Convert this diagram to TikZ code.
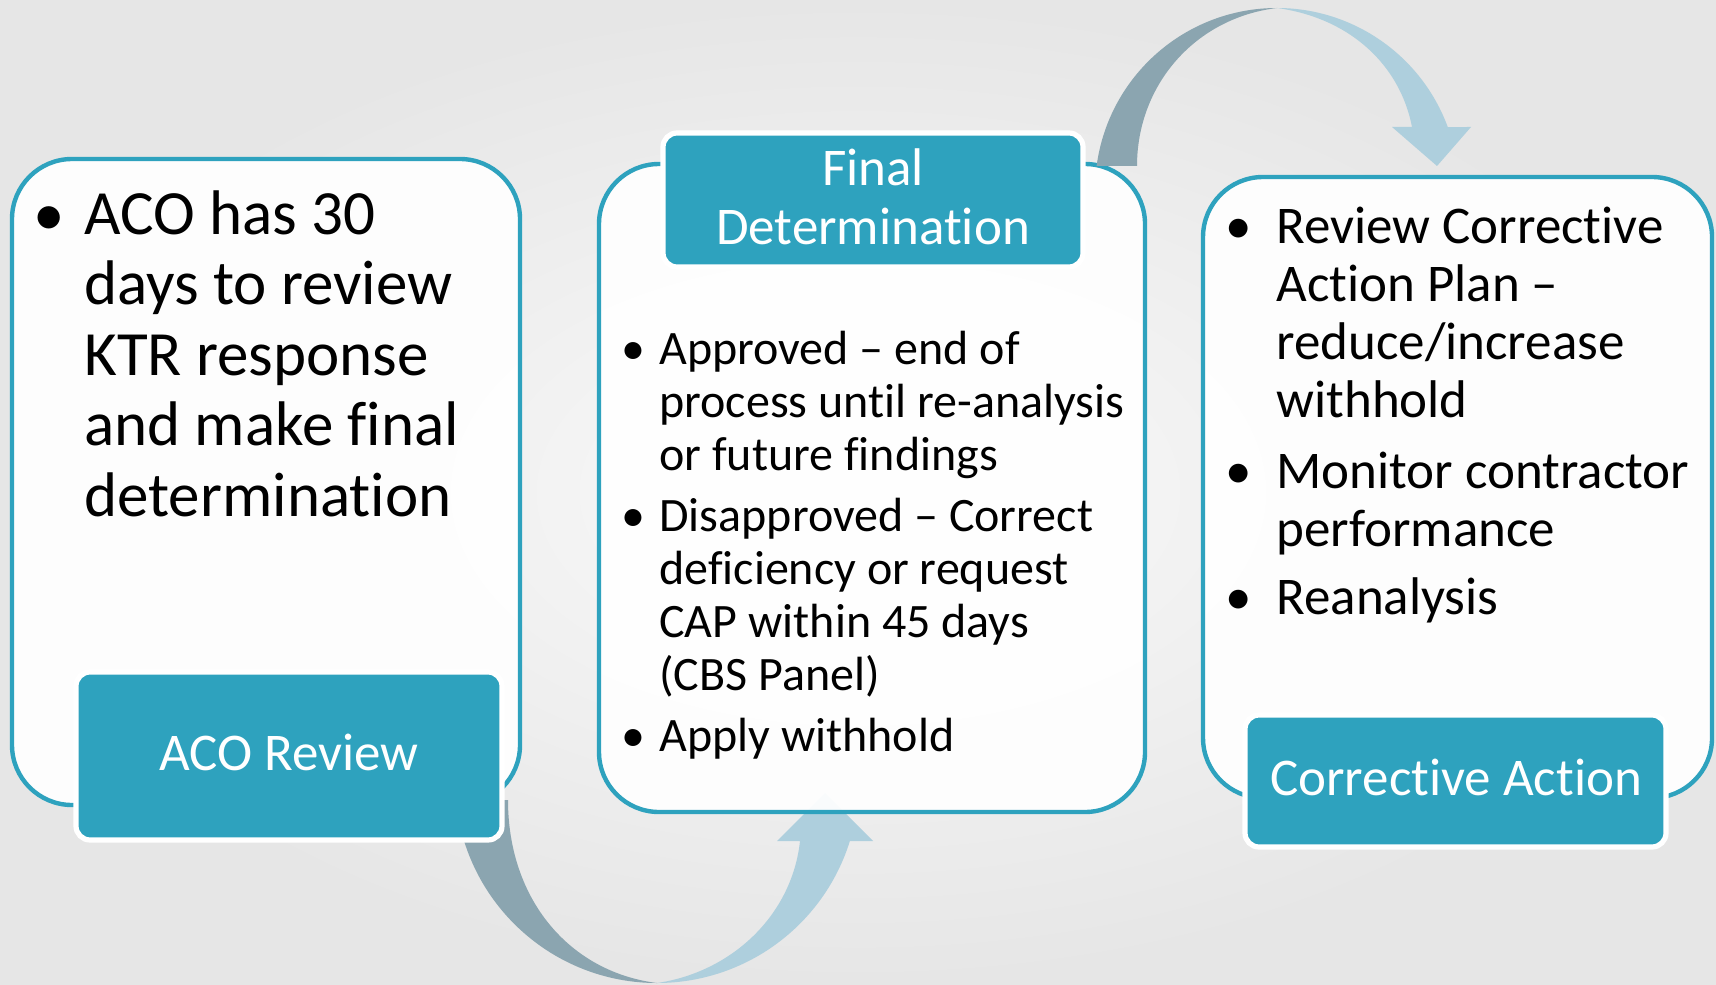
\documentclass[tikz,border=0pt]{standalone}
\usepackage{fontspec}
\setmainfont{Carlito}[Ligatures={NoCommon}]
\usetikzlibrary{fit}

\definecolor{Teal}{RGB}{46,162,190}
\definecolor{ArrowDark}{RGB}{139,165,176}
\definecolor{ArrowLight}{RGB}{174,207,221}
\definecolor{BackIn}{RGB}{250,250,250}
\definecolor{BackOut}{RGB}{230,230,230}

\tikzset{
  stepframe/.style={draw=Teal, line width=2.2pt, fill=white, fill opacity=0.93, rounded corners=30pt, inner sep=0pt},
  steplabel/.style={draw=white, fill=Teal, line width=2.6pt, rounded corners=7pt, inner sep=0pt},
  labeltext/.style={anchor=base, inner sep=0pt, text=white, align=center, font=\fontsize{26.5}{29}\selectfont},
  bodytext/.style={anchor=base west, align=left, inner sep=0pt},
  bullet/.style={anchor=base, inner sep=0pt},
}

\begin{document}
\begin{tikzpicture}[x=0.5pt, y=-0.5pt]

  \useasboundingbox (0,0) rectangle (1716,984);
  \shade[inner color=BackIn, outer color=BackOut] (0,0) rectangle (1716,984);

  %%%%%%%%%% lower arrow, from ACO Review to Final Determination %%%%%%%%%%
  \fill[ArrowDark] (657,983) arc[start angle=90, end angle=174.6, radius=202]
    -- (508,800) .. controls (508,900) and (570,972) .. (657,983) -- cycle;
  \fill[ArrowLight] (657,983) arc[start angle=90, end angle=17.3, radius=202]
    -- (873,841) -- (825,793) -- (777,841) -- (800,841)
    .. controls (792,915) and (732,972) .. (657,983) -- cycle;

  %%%%%%%%%% frames %%%%%%%%%%
  \node[stepframe, fit={(12,159) (520,805)}] (aco) {};
  \node[stepframe, fit={(599,164) (1145,812)}] (final) {};
  \node[stepframe, fit={(1203,177) (1712,798)}] (corr) {};

  %%%%%%%%%% upper arrow, from Final Determination to Corrective Action %%%%%%%%%%
  \fill[ArrowDark] (1277,8) arc[start angle=270, end angle=187.6, radius=182]
    -- (1137,166) .. controls (1137,85) and (1195,18) .. (1277,8) -- cycle;
  \fill[ArrowLight] (1277,8) arc[start angle=270, end angle=339.75, radius=182]
    -- (1471,127) -- (1437,166) -- (1392,127) -- (1412,127)
    .. controls (1400,65) and (1350,18) .. (1277,8) -- cycle;

  %%%%%%%%%% labels %%%%%%%%%%
  \node[steplabel, fit={(76,672) (502,840)}] (acolabel) {};
  \node[steplabel, fit={(663,133) (1083,267)}] (finallabel) {};
  \node[steplabel, fit={(1245,715) (1666,847)}] (corrlabel) {};

  \node[labeltext] (aconame) at (289,770) {ACO Review};
  \node[labeltext] (finalname) at (873,244) {Final\\Determination};
  \node[labeltext] (corrname) at (1456,795) {Corrective Action};

  %%%%%%%%%% texts (placed at the baseline of their last line) %%%%%%%%%%
  \node[bullet, font=\fontsize{31.5}{35.2}\selectfont] (acob1) at (49,235) {\textbullet};
  \node[bodytext, font=\fontsize{31.5}{35.2}\selectfont] (acot1) at (84,516)
    {ACO has 30\\days to review\\KTR response\\and make final\\determination};

  \node[bullet, font=\fontsize{24}{26.5}\selectfont] (finalb1) at (633,364) {\textbullet};
  \node[bodytext, font=\fontsize{24}{26.5}\selectfont] (finalt1) at (659,470)
    {Approved – end of\\process until re-analysis\\or future findings};
  \node[bullet, font=\fontsize{24}{26.5}\selectfont] (finalb2) at (633,531) {\textbullet};
  \node[bodytext, font=\fontsize{24}{26.5}\selectfont] (finalt2) at (659,690)
    {Disapproved – Correct\\deficiency or request\\CAP within 45 days\\(CBS Panel)};
  \node[bullet, font=\fontsize{24}{26.5}\selectfont] (finalb3) at (633,751) {\textbullet};
  \node[bodytext, font=\fontsize{24}{26.5}\selectfont] (finalt3) at (659,751) {Apply withhold};

  \node[bullet, font=\fontsize{26.5}{29}\selectfont] (corrb1) at (1239,243) {\textbullet};
  \node[bodytext, font=\fontsize{26.5}{29}\selectfont] (corrt1) at (1276,417)
    {Review Corrective\\Action Plan –\\reduce/increase\\withhold};
  \node[bullet, font=\fontsize{26.5}{29}\selectfont] (corrb2) at (1239,488) {\textbullet};
  \node[bodytext, font=\fontsize{26.5}{29}\selectfont] (corrt2) at (1276,546)
    {Monitor contractor\\performance};
  \node[bullet, font=\fontsize{26.5}{29}\selectfont] (corrb3) at (1239,614) {\textbullet};
  \node[bodytext, font=\fontsize{26.5}{29}\selectfont] (corrt3) at (1276,614) {Reanalysis};

\end{tikzpicture}
\end{document}
